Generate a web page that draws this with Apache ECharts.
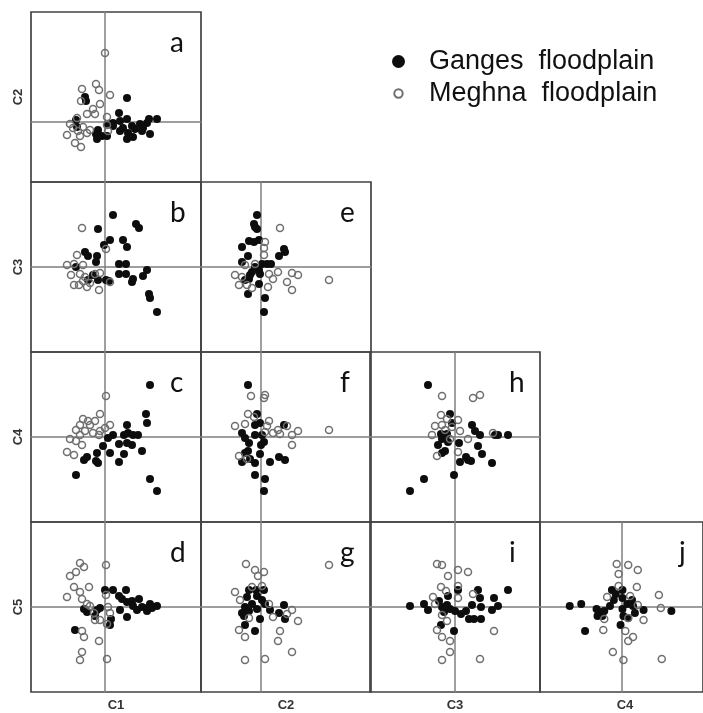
<!DOCTYPE html>
<html>
<head>
<meta charset="utf-8">
<script src="https://cdn.jsdelivr.net/npm/echarts/dist/echarts.min.js"></script>
<style>
  html, body { margin: 0; padding: 0; background: #fff; }
  #chart { width: 703px; height: 713px; }
</style>
</head>
<body>
<div id="chart"></div>
<script>
// Component scores C1..C5 and the value window shown for each
const variables = ['C1', 'C2', 'C3', 'C4', 'C5'];
const rangeMin = [-7.4, -6, -8.5, -8.5, -8.5];
const rangeMax = [9.6, 11, 8.5, 8.5, 8.5];
const groupNames = ['Ganges floodplain', 'Meghna floodplain'];
const panelLetters = ['a', 'b', 'c', 'd', 'e', 'f', 'g', 'h', 'i', 'j'];

// a: C1 vs C2
const gangesA = [[-2.0,2.5],[-1.9,2.1],[2.2,2.4],[1.4,0.9],[-2.9,0.2],[-2.8,-0.5],[-0.7,-0.8],[-0.9,-1.2],[-0.8,-1.7],[-0.3,-1.4],[0.2,-1.4],[0.3,-0.2],[0.8,-0.1],[0.8,-0.4],[1.5,0.1],[1.8,-0.6],[2.2,0.3],[2.3,-1.1],[2.2,-1.7],[2.8,-1.5],[2.7,-0.4],[3.0,-0.7],[3.5,-0.2],[3.8,-0.6],[4.2,-0.1],[4.4,0.3],[5.2,0.3],[4.5,-1.2],[3.7,-0.9],[1.5,-0.9]];
const meghnaA = [[0.0,6.9],[-2.3,3.3],[-0.9,3.8],[-0.6,3.2],[0.5,2.7],[-2.4,2.1],[-0.5,1.8],[-1.2,1.3],[-1.8,0.8],[-1.0,0.8],[0.2,0.5],[-2.8,0.4],[-3.5,-0.2],[-3.2,-0.6],[-2.2,-0.5],[-1.5,-0.8],[-3.8,-1.3],[-2.5,-1.4],[-3.0,-2.1],[-2.4,-2.5],[0.2,-0.3],[0.3,-0.9],[-1.8,-1.1],[-2.7,-0.9]];
// b: C1 vs C3
const gangesB = [[0.8,5.2],[-0.7,3.8],[3.1,4.3],[3.4,3.9],[0.5,2.7],[-0.1,2.2],[1.8,2.7],[2.2,2.0],[-2.0,1.5],[-1.7,1.1],[-0.8,1.1],[-0.9,0.5],[-2.9,0.0],[1.4,0.3],[2.1,0.3],[1.4,-0.7],[2.1,-0.7],[4.2,-0.3],[3.8,-0.9],[2.7,-1.5],[2.8,-1.2],[4.4,-2.7],[4.5,-3.1],[5.2,-4.5],[-1.2,-0.8],[-0.7,-1.3],[0.1,-1.3],[0.4,-1.4],[-1.7,-1.3]];
const meghnaB = [[-2.3,3.9],[-2.8,1.2],[-3.8,0.2],[-3.1,0.3],[-2.2,0.2],[-3.4,-0.8],[-2.5,-0.7],[-2.0,-1.0],[-3.1,-1.8],[-2.6,-1.8],[-1.8,-2.0],[-1.5,-1.6],[-1.0,-0.7],[-0.5,-0.6],[-0.6,-2.3],[0.1,1.8],[0.5,-1.5],[-2.2,-1.4]];
// c: C1 vs C4
const gangesC = [[4.5,5.2],[4.1,2.3],[4.2,1.4],[2.2,1.2],[1.9,0.2],[2.3,0.4],[2.8,0.2],[3.3,0.2],[0.8,0.2],[0.3,-0.1],[-0.2,-0.9],[1.4,-0.7],[2.2,-0.6],[2.7,-0.8],[3.7,-1.4],[0.5,-1.6],[-0.8,-1.6],[1.9,-1.7],[-1.8,-2.0],[-2.1,-2.3],[-0.9,-2.4],[-0.7,-2.6],[1.4,-2.5],[-2.9,-3.8],[4.5,-4.2],[5.2,-5.4]];
const meghnaC = [[0.1,4.1],[-0.5,2.3],[-2.2,1.8],[-1.7,1.6],[-1.0,1.6],[-2.5,1.2],[-1.5,1.2],[0.5,1.2],[0.0,0.9],[-2.9,0.7],[-2.0,0.6],[-1.2,0.4],[-0.5,0.6],[-3.5,-0.2],[-2.9,-0.4],[-2.3,-0.8],[-3.8,-1.5],[-3.1,-1.8],[-0.6,0.2],[-2.5,0.2]];
// d: C1 vs C5
const gangesD = [[0.0,1.7],[0.8,1.7],[1.4,1.1],[2.1,1.7],[1.7,0.8],[2.2,0.5],[2.7,0.6],[3.4,0.8],[2.8,0.1],[3.2,-0.3],[3.7,0.0],[4.2,-0.4],[4.5,0.3],[5.2,0.1],[4.7,-0.1],[1.5,-0.3],[2.2,-1.0],[0.6,-1.2],[0.5,-1.8],[-0.8,-0.3],[-1.0,-0.9],[-1.8,-0.5],[-2.1,-0.2],[-3.0,-2.3],[-0.5,-0.1],[4.2,-0.1]];
const meghnaD = [[-2.5,4.4],[-2.1,4.0],[-2.9,3.5],[-3.5,3.1],[0.1,4.2],[-3.1,2.0],[-1.6,2.0],[-2.5,1.5],[-3.8,1.0],[0.1,1.2],[-2.3,0.8],[-1.8,0.3],[-1.1,-0.6],[-0.5,-1.3],[-1.0,-1.3],[0.3,0.0],[0.5,-0.6],[0.2,-1.7],[-2.3,-2.4],[-2.1,-3.0],[-0.6,-3.4],[-2.3,-4.5],[-2.5,-5.3],[0.2,-5.2],[-1.5,0.1]];
// e: C2 vs C3
const gangesE = [[-0.4,5.2],[-0.7,4.3],[-0.6,4.0],[-0.4,3.8],[-1.2,2.6],[-0.7,2.5],[-0.2,2.7],[-1.9,2.0],[-1.3,1.1],[2.3,1.8],[2.4,1.5],[1.8,1.1],[-1.9,0.5],[-0.6,0.0],[-0.2,-0.3],[0.1,0.3],[0.6,0.3],[1.0,0.3],[-1.1,-0.8],[-1.6,-1.3],[-1.2,-1.2],[-0.2,-1.7],[-1.3,-2.7],[0.4,-3.1],[0.3,-4.5],[-0.1,-0.7],[-0.9,-0.5]];
const meghnaE = [[1.9,3.9],[0.4,2.5],[0.3,1.9],[0.3,1.2],[-2.6,-0.8],[-1.9,-1.0],[-2.2,-1.8],[-1.4,-1.8],[-0.9,-2.1],[0.8,-0.7],[1.2,-1.2],[1.7,-0.5],[0.7,-2.0],[2.6,-1.5],[3.1,-2.3],[3.1,-0.6],[3.7,-0.8],[6.8,-1.3],[-1.6,0.2],[-0.6,0.3]];
// f: C2 vs C4
const gangesF = [[-1.3,5.2],[-0.4,2.3],[-0.1,1.4],[-0.6,1.2],[2.3,1.2],[-1.9,0.4],[-1.6,-0.1],[-0.6,0.2],[0.1,0.2],[0.3,-0.5],[0.0,-0.8],[-1.2,-0.6],[-1.3,-1.4],[-1.6,-1.6],[-0.1,-1.7],[-1.9,-2.5],[-0.6,-2.6],[0.9,-2.5],[1.8,-2.0],[2.4,-2.3],[-0.6,-3.8],[0.4,-4.2],[0.3,-5.4],[-1.1,-2.2]];
const meghnaF = [[-1.0,4.1],[0.3,3.9],[0.4,4.2],[-1.3,2.3],[-0.7,2.0],[0.8,1.6],[-2.6,1.1],[-1.6,1.3],[0.6,1.1],[1.2,0.4],[1.7,0.7],[1.9,0.3],[2.6,1.1],[3.1,0.2],[3.7,0.6],[3.1,-0.8],[6.8,0.7],[-2.2,-1.9],[-1.4,-2.2],[0.4,0.5]];
// g: C2 vs C5
const gangesG = [[-1.2,1.7],[-0.5,1.7],[0.3,1.7],[-1.4,1.0],[-0.4,1.1],[0.1,0.7],[-0.9,0.3],[-1.6,0.0],[-1.9,-0.6],[-1.2,-0.4],[-0.4,-0.2],[0.4,0.3],[0.9,-0.3],[2.3,0.2],[1.8,-0.6],[2.4,-1.2],[-0.1,-1.2],[-1.6,-1.8],[-0.6,-2.4],[-1.7,-0.9]];
const meghnaG = [[-1.5,4.3],[-0.6,3.7],[0.3,3.5],[-0.3,3.1],[6.8,4.2],[-2.6,1.5],[-2.1,0.7],[-0.9,2.0],[0.1,2.1],[0.8,0.3],[3.1,-0.3],[2.6,-0.7],[1.2,-1.0],[3.7,-1.4],[-2.2,-2.3],[-1.6,-3.0],[1.9,-2.4],[1.7,-3.4],[3.1,-4.5],[-1.6,-5.3],[0.4,-5.2],[-1.2,-1.1]];
// h: C3 vs C4
const gangesH = [[-2.7,5.2],[-0.5,2.3],[-0.3,1.4],[-1.4,0.3],[-0.8,0.3],[-1.3,-0.2],[-0.7,-0.5],[-1.7,-0.8],[0.4,-0.6],[1.7,1.2],[2.0,0.6],[2.5,0.2],[4.0,0.2],[4.3,0.2],[5.3,0.2],[2.3,-0.9],[2.7,-1.7],[-1.3,-1.6],[-1.0,-1.4],[1.1,-2.0],[0.5,-2.5],[1.3,-2.3],[1.6,-2.4],[3.7,-2.6],[-0.1,-3.8],[-3.1,-4.2],[-4.5,-5.4]];
const meghnaH = [[-1.3,4.1],[1.8,3.9],[2.5,4.2],[-1.4,2.2],[-0.8,1.8],[0.3,1.7],[-2.0,1.1],[-1.3,1.2],[-0.3,1.0],[0.5,0.6],[-2.3,0.2],[-0.5,-0.2],[1.3,-0.2],[3.8,0.4],[0.3,-1.5],[-1.8,-1.9],[-1.0,0.7]];
// i: C3 vs C5
const gangesI = [[-4.5,0.1],[-3.1,0.3],[-2.7,-0.3],[-1.6,0.6],[-0.7,1.1],[0.3,1.7],[2.3,1.7],[2.5,0.9],[3.9,0.9],[5.3,1.7],[1.7,0.2],[2.6,0.0],[3.7,-0.3],[4.3,0.1],[-1.3,0.0],[-1.1,-0.5],[-0.5,-0.2],[0.0,-0.4],[0.6,-0.7],[1.1,-0.4],[1.4,-1.2],[1.9,-1.2],[2.6,-1.2],[-1.4,-1.8],[-0.1,-2.4],[-0.8,0.2]];
const meghnaI = [[-1.8,4.3],[-1.3,4.2],[0.3,3.7],[1.3,3.5],[-0.7,3.1],[-1.4,2.0],[0.3,2.1],[1.8,1.3],[-2.2,1.0],[-0.9,1.6],[0.3,0.9],[-2.0,0.3],[-1.3,-0.8],[-0.8,-1.4],[-1.8,-2.3],[-1.3,-3.0],[-0.5,-3.4],[-0.5,-4.5],[-1.3,-5.3],[2.5,-5.2],[3.9,-2.4]];
// j: C4 vs C5
const gangesJ = [[-5.4,0.1],[-4.2,0.3],[-2.6,-0.2],[-2.3,-0.5],[-2.5,-0.9],[-2.0,-0.9],[-1.8,-0.4],[-1.2,0.1],[-1.0,1.7],[-0.6,1.3],[-0.8,0.7],[0.1,1.7],[0.1,0.9],[0.6,0.3],[1.1,0.7],[0.1,-0.2],[0.2,-0.9],[0.7,-1.1],[1.4,-0.6],[2.3,-0.3],[5.2,-0.4],[-0.1,-1.8],[-3.8,-2.4],[1.2,0.1]];
const meghnaJ = [[-0.5,4.3],[0.7,4.2],[1.7,3.7],[-0.3,3.3],[-0.3,2.1],[1.6,2.0],[-1.5,1.0],[0.9,1.1],[3.9,1.2],[1.7,0.2],[4.1,-0.1],[2.3,-1.3],[-1.9,-2.3],[0.4,-2.4],[1.2,-3.0],[0.7,-3.4],[-0.9,-4.5],[0.2,-5.3],[4.2,-5.2],[-1.8,-1.2],[0.7,-1.1]];

// Panel definitions: [x variable index, y variable index, ganges, meghna]
const panels = [
  [0, 1, gangesA, meghnaA],
  [0, 2, gangesB, meghnaB],
  [0, 3, gangesC, meghnaC],
  [0, 4, gangesD, meghnaD],
  [1, 2, gangesE, meghnaE],
  [1, 3, gangesF, meghnaF],
  [1, 4, gangesG, meghnaG],
  [2, 3, gangesH, meghnaH],
  [2, 4, gangesI, meghnaI],
  [3, 4, gangesJ, meghnaJ]
];

// Matrix layout in pixels
const CELL = 170;
const colLeft = [31, 201, 370, 540];
const rowTop = [12, 182, 352, 522];

const grids = [], xAxes = [], yAxes = [], series = [], graphics = [];

panels.forEach((p, i) => {
  const [xv, yv, g, m] = p;
  const col = xv, row = yv - 1;
  const left = colLeft[col], top = rowTop[row];
  grids.push({
    left: left, top: top, width: CELL, height: CELL,
    show: true, borderColor: '#434343', borderWidth: 1.7,
    backgroundColor: 'transparent'
  });
  const axisCommon = {
    type: 'value', gridIndex: i,
    axisLine: { show: true, onZero: true, lineStyle: { color: '#7f7f7f', width: 1.5 } },
    axisTick: { show: false }, axisLabel: { show: false }, splitLine: { show: false }
  };
  xAxes.push(Object.assign({}, axisCommon, { min: rangeMin[xv], max: rangeMax[xv] }));
  yAxes.push(Object.assign({}, axisCommon, { min: rangeMin[yv], max: rangeMax[yv] }));
  series.push({
    name: groupNames[0], type: 'scatter', xAxisIndex: i, yAxisIndex: i,
    data: g, symbol: 'circle', symbolSize: 8,
    itemStyle: { color: '#0d0d0d', opacity: 1 },
    emphasis: { disabled: true }, animation: false
  });
  series.push({
    name: groupNames[1], type: 'scatter', xAxisIndex: i, yAxisIndex: i,
    data: m, symbol: 'circle', symbolSize: 7,
    itemStyle: { color: 'rgba(255,255,255,0)', borderColor: '#6f6f6f', borderWidth: 1.5, opacity: 1 },
    emphasis: { disabled: true }, animation: false
  });
  // panel letter in the upper right corner
  graphics.push({
    type: 'text', left: left + CELL - 31, top: top + 17, silent: true,
    style: { text: panelLetters[i], font: '28px Lato', fill: '#111' }
  });
});

// Axis titles: rows on the left, columns along the bottom
for (let r = 0; r < 4; r++) {
  graphics.push({
    type: 'text', x: 18, y: rowTop[r] + CELL / 2, rotation: Math.PI / 2, silent: true,
    style: { text: variables[r + 1], font: 'bold 13px "Liberation Sans"', fill: '#333',
             align: 'center', verticalAlign: 'middle' }
  });
}
for (let c = 0; c < 4; c++) {
  graphics.push({
    type: 'text', x: colLeft[c] + CELL / 2, y: 705, silent: true,
    style: { text: variables[c], font: 'bold 13px "Liberation Sans"', fill: '#333',
             align: 'center', verticalAlign: 'middle' }
  });
}

const chart = echarts.init(document.getElementById('chart'), null, { renderer: 'canvas' });
chart.setOption({
  animation: false,
  backgroundColor: '#fff',
  grid: grids,
  xAxis: xAxes,
  yAxis: yAxes,
  series: series,
  legend: {
    data: [
      { name: groupNames[0], icon: 'circle' },
      // smaller ring inside the same 13px icon box
      { name: groupNames[1], icon: 'path://M0,0M13,13M6.5,2.3A4.2,4.2,0,1,1,6.49,2.3Z' }
    ],
    orient: 'vertical', left: 391, top: 48, padding: 0,
    itemWidth: 13, itemHeight: 13, itemGap: 5,
    selectedMode: false,
    formatter: name => name.replace(' ', '  '),
    textStyle: { fontFamily: 'Liberation Sans', fontSize: 27, color: '#111', padding: [0, 0, 0, 19] }
  },
  graphic: graphics
});
</script>
</body>
</html>
